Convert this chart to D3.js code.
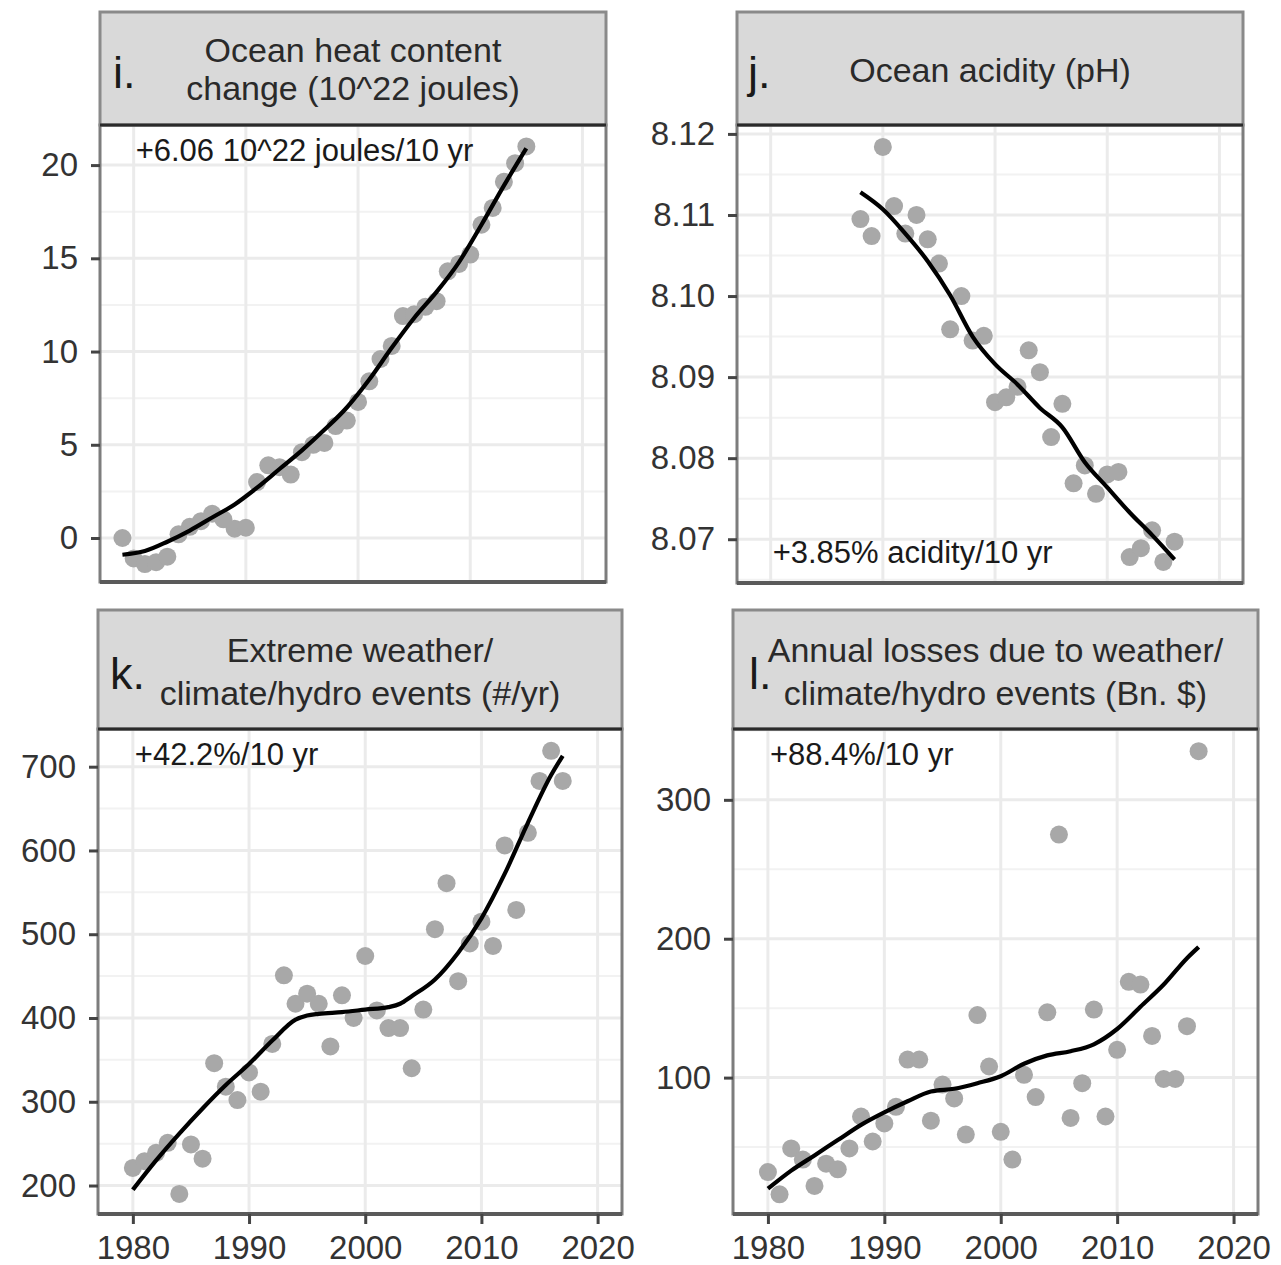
<!DOCTYPE html>
<html>
<head>
<meta charset="utf-8">
<script src="https://cdn.jsdelivr.net/npm/d3@7"></script>
<style>
  body { margin: 0; background: #fff; }
  svg text { font-family: "Liberation Sans", Arial, sans-serif; }
</style>
</head>
<body>
<div id="chart"></div>
<script>

// ---- data ----

// i. Ocean heat content change (10^22 joules)
var heatYears = [1979, 1980, 1981, 1982, 1983, 1984, 1985, 1986, 1987, 1988, 1989, 1990,
  1991, 1992, 1993, 1994, 1995, 1996, 1997, 1998, 1999, 2000, 2001, 2002, 2003, 2004,
  2005, 2006, 2007, 2008, 2009, 2010, 2011, 2012, 2013, 2014, 2015];
var heatValues = [0.0, -1.1, -1.4, -1.3, -1.0, 0.2, 0.6, 0.9, 1.3, 1.0, 0.5, 0.55,
  3.0, 3.9, 3.8, 3.4, 4.6, 5.0, 5.1, 6.0, 6.3, 7.3, 8.4, 9.6, 10.3, 11.9,
  12.0, 12.4, 12.7, 14.3, 14.7, 15.2, 16.8, 17.7, 19.1, 20.1, 21.0];
var heatFitYears = [1979, 1981, 1983, 1985, 1987, 1989, 1991, 1993, 1995, 1997, 1999,
  2001, 2003, 2005, 2007, 2009, 2011, 2013, 2015];
var heatFitValues = [-0.9, -0.7, -0.2, 0.4, 1.1, 1.8, 2.7, 3.7, 4.7, 5.8, 7.0,
  8.5, 10.2, 11.8, 13.2, 14.8, 16.8, 18.9, 20.9];
var heatTicks = [0, 5, 10, 15, 20];

// j. Ocean acidity (pH)
var phYears = [1988, 1989, 1990, 1991, 1992, 1993, 1994, 1995, 1996, 1997, 1998, 1999,
  2000, 2001, 2002, 2003, 2004, 2005, 2006, 2007, 2008, 2009, 2010, 2011, 2012, 2013,
  2014, 2015, 2016];
var phValues = [8.1095, 8.1074, 8.1184, 8.1111, 8.1077, 8.1100, 8.1070, 8.1040, 8.0959,
  8.1000, 8.0945, 8.0951, 8.0869, 8.0875, 8.0888, 8.0933, 8.0906, 8.0826, 8.0867,
  8.0769, 8.0791, 8.0756, 8.0780, 8.0783, 8.0678, 8.0689, 8.0711, 8.0672, 8.0697];
var phFitYears = [1988, 1990, 1992, 1994, 1996, 1998, 2000, 2002, 2004, 2006, 2008,
  2010, 2012, 2014, 2016];
var phFitValues = [8.1128, 8.1107, 8.1077, 8.1043, 8.1001, 8.0950, 8.0916, 8.0891,
  8.0862, 8.0838, 8.0795, 8.0764, 8.0733, 8.0705, 8.0675];
var phTicks = [8.07, 8.08, 8.09, 8.10, 8.11, 8.12];

// k. Extreme weather/climate/hydro events (#/yr)
var eventYears = [1980, 1981, 1982, 1983, 1984, 1985, 1986, 1987, 1988, 1989, 1990,
  1991, 1992, 1993, 1994, 1995, 1996, 1997, 1998, 1999, 2000, 2001, 2002, 2003, 2004,
  2005, 2006, 2007, 2008, 2009, 2010, 2011, 2012, 2013, 2014, 2015, 2016, 2017];
var eventValues = [221, 229, 239, 251, 190, 249, 232, 346, 318, 302, 335,
  312, 369, 451, 417, 429, 417, 366, 427, 400, 474, 409, 388, 388, 340,
  410, 506, 561, 444, 489, 515, 486, 606, 529, 621, 683, 719, 683];
var eventFitYears = [1980, 1982, 1984, 1986, 1988, 1990, 1992, 1994, 1995, 1996, 1998,
  2000, 2002, 2003, 2004, 2006, 2008, 2010, 2012, 2014, 2016, 2017];
var eventFitValues = [195, 230, 262, 292, 320, 345, 373, 398, 403, 405, 407,
  410, 413, 417, 426, 446, 478, 519, 572, 633, 690, 713];
var eventTicks = [200, 300, 400, 500, 600, 700];

// l. Annual losses due to weather/climate/hydro events (Bn. $)
var lossYears = [1980, 1981, 1982, 1983, 1984, 1985, 1986, 1987, 1988, 1989, 1990,
  1991, 1992, 1993, 1994, 1995, 1996, 1997, 1998, 1999, 2000, 2001, 2002, 2003, 2004,
  2005, 2006, 2007, 2008, 2009, 2010, 2011, 2012, 2013, 2014, 2015, 2016, 2017];
var lossValues = [32, 16, 49, 41, 22, 38, 34, 49, 72, 54, 67,
  79, 113, 113, 69, 95, 85, 59, 145, 108, 61, 41, 102, 86, 147,
  275, 71, 96, 149, 72, 120, 169, 167, 130, 99, 99, 137, 335];
var lossFitYears = [1980, 1982, 1984, 1986, 1988, 1990, 1992, 1994, 1996, 1998, 2000,
  2002, 2004, 2006, 2008, 2010, 2012, 2014, 2016, 2017];
var lossFitValues = [20, 33, 44, 55, 66, 75, 83, 90, 92, 96, 101,
  110, 116, 119, 124, 135, 151, 167, 186, 194];
var lossTicks = [100, 200, 300];

var yearTicks = [1980, 1990, 2000, 2010, 2020];

// ---- layout ----
var svgWidth = 1281;
var svgHeight = 1265;
var xDomain = [1977.0, 2022.1];

var panels = [
  {
    letter: "i.", title: ["Ocean heat content", "change (10^22 joules)"],
    note: "+6.06 10^22 joules/10 yr", noteTop: true,
    years: heatYears, values: heatValues, fitYears: heatFitYears, fitValues: heatFitValues,
    ticks: heatTicks, yDomain: [-2.36, 22.15], format: d3.format("d"),
    left: 100, right: 606, stripTop: 12, top: 125, bottom: 582,
    letterX: 113, titleY: [62, 100], xAxis: false
  },
  {
    letter: "j.", title: ["Ocean acidity (pH)"],
    note: "+3.85% acidity/10 yr", noteTop: false,
    years: phYears, values: phValues, fitYears: phFitYears, fitValues: phFitValues,
    ticks: phTicks, yDomain: [8.0646, 8.1211], format: d3.format(".2f"),
    left: 737, right: 1243, stripTop: 12, top: 125, bottom: 583,
    letterX: 748, titleY: [82], xAxis: false
  },
  {
    letter: "k.", title: ["Extreme weather/", "climate/hydro events (#/yr)"],
    note: "+42.2%/10 yr", noteTop: true,
    years: eventYears, values: eventValues, fitYears: eventFitYears, fitValues: eventFitValues,
    ticks: eventTicks, yDomain: [166, 745], format: d3.format("d"),
    left: 98, right: 622, stripTop: 610, top: 729, bottom: 1214,
    letterX: 110, titleY: [662, 705], xAxis: true
  },
  {
    letter: "l.", title: ["Annual losses due to weather/", "climate/hydro events (Bn. $)"],
    note: "+88.4%/10 yr", noteTop: true,
    years: lossYears, values: lossValues, fitYears: lossFitYears, fitValues: lossFitValues,
    ticks: lossTicks, yDomain: [1.8, 351], format: d3.format("d"),
    left: 733, right: 1258, stripTop: 610, top: 729, bottom: 1214,
    letterX: 749, titleY: [662, 705], xAxis: true
  }
];

var svg = d3.select("#chart")
  .append("svg")
  .attr("width", svgWidth)
  .attr("height", svgHeight);

svg.append("rect")
  .attr("width", svgWidth)
  .attr("height", svgHeight)
  .attr("fill", "#fff");

panels.forEach(function(p) {
  var w = p.right - p.left;
  var h = p.bottom - p.top;

  var x = d3.scaleLinear().domain(xDomain).range([0, w]);
  var y = d3.scaleLinear().domain(p.yDomain).range([h, 0]);

  var g = svg.append("g")
    .attr("transform", `translate(${p.left}, ${p.top})`);

  // minor gridlines halfway between the major ticks
  var step = p.ticks[1] - p.ticks[0];
  var minor = p.ticks.map(d => d - step / 2).concat([p.ticks[p.ticks.length - 1] + step / 2])
    .filter(d => d > p.yDomain[0] && d < p.yDomain[1]);

  g.selectAll(".minor")
    .data(minor)
    .enter()
    .append("line")
    .attr("x1", 0).attr("x2", w)
    .attr("y1", d => y(d)).attr("y2", d => y(d))
    .attr("stroke", "#f2f2f2")
    .attr("stroke-width", 2);

  g.selectAll(".majorY")
    .data(p.ticks)
    .enter()
    .append("line")
    .attr("x1", 0).attr("x2", w)
    .attr("y1", d => y(d)).attr("y2", d => y(d))
    .attr("stroke", "#ebebeb")
    .attr("stroke-width", 3);

  g.selectAll(".majorX")
    .data(yearTicks)
    .enter()
    .append("line")
    .attr("x1", d => x(d)).attr("x2", d => x(d))
    .attr("y1", 0).attr("y2", h)
    .attr("stroke", "#ebebeb")
    .attr("stroke-width", 3);

  // points
  var pts = p.years.map((yr, i) => ({ year: yr, value: p.values[i] }));
  g.selectAll("circle")
    .data(pts)
    .enter()
    .append("circle")
    .attr("cx", d => x(d.year))
    .attr("cy", d => y(d.value))
    .attr("r", 9)
    .attr("fill", "#a8a8a8");

  // smoothed trend
  var fit = p.fitYears.map((yr, i) => ({ year: yr, value: p.fitValues[i] }));
  var line = d3.line()
    .x(d => x(d.year))
    .y(d => y(d.value))
    .curve(d3.curveMonotoneX);

  g.append("path")
    .datum(fit)
    .attr("d", line)
    .attr("fill", "none")
    .attr("stroke", "#000")
    .attr("stroke-width", 4.2)
    .attr("stroke-linejoin", "round");

  // trend note
  g.append("text")
    .attr("x", x(1980) + 2)
    .attr("y", p.noteTop ? 36 : h - 20)
    .attr("font-size", 31)
    .attr("fill", "#1a1a1a")
    .text(p.note);

  // panel border
  g.append("rect")
    .attr("width", w)
    .attr("height", h)
    .attr("fill", "none")
    .attr("stroke", "#7d7d7d")
    .attr("stroke-width", 3);

  g.append("line")
    .attr("x1", 0).attr("x2", w)
    .attr("y1", h).attr("y2", h)
    .attr("stroke", "#5a5a5a")
    .attr("stroke-width", 4);

  // y axis
  var yAxis = g.append("g")
    .call(d3.axisLeft(y).tickValues(p.ticks).tickFormat(p.format).tickSize(9).tickPadding(13));
  yAxis.select(".domain").remove();
  yAxis.selectAll("line").attr("stroke", "#444").attr("stroke-width", 3);
  yAxis.selectAll("text")
    .attr("font-size", 33)
    .attr("fill", "#333")
    .style("font-family", "'Liberation Sans', Arial, sans-serif");

  // x axis on the bottom row only
  if (p.xAxis) {
    var xAxis = g.append("g")
      .attr("transform", `translate(0, ${h})`)
      .call(d3.axisBottom(x).tickValues(yearTicks).tickFormat(d3.format("d")).tickSize(10).tickPadding(12));
    xAxis.select(".domain").remove();
    xAxis.selectAll("line").attr("stroke", "#444").attr("stroke-width", 3);
    xAxis.selectAll("text")
      .attr("font-size", 33)
      .attr("fill", "#333")
      .style("font-family", "'Liberation Sans', Arial, sans-serif");
  }

  // strip
  svg.append("rect")
    .attr("x", p.left)
    .attr("y", p.stripTop)
    .attr("width", w)
    .attr("height", p.top - p.stripTop)
    .attr("fill", "#d9d9d9")
    .attr("stroke", "#8a8a8a")
    .attr("stroke-width", 3);

  svg.append("line")
    .attr("x1", p.left).attr("x2", p.right)
    .attr("y1", p.top).attr("y2", p.top)
    .attr("stroke", "#2b2b2b")
    .attr("stroke-width", 3);

  var midY = (p.stripTop + p.top) / 2;

  svg.append("text")
    .attr("x", p.letterX)
    .attr("y", midY + 19)
    .attr("font-size", 45)
    .attr("fill", "#1a1a1a")
    .text(p.letter);

  p.title.forEach(function(t, i) {
    svg.append("text")
      .attr("x", (p.left + p.right) / 2)
      .attr("y", p.titleY[i])
      .attr("text-anchor", "middle")
      .attr("font-size", 34)
      .attr("fill", "#2a2a2a")
      .text(t);
  });
});

</script>
</body>
</html>
